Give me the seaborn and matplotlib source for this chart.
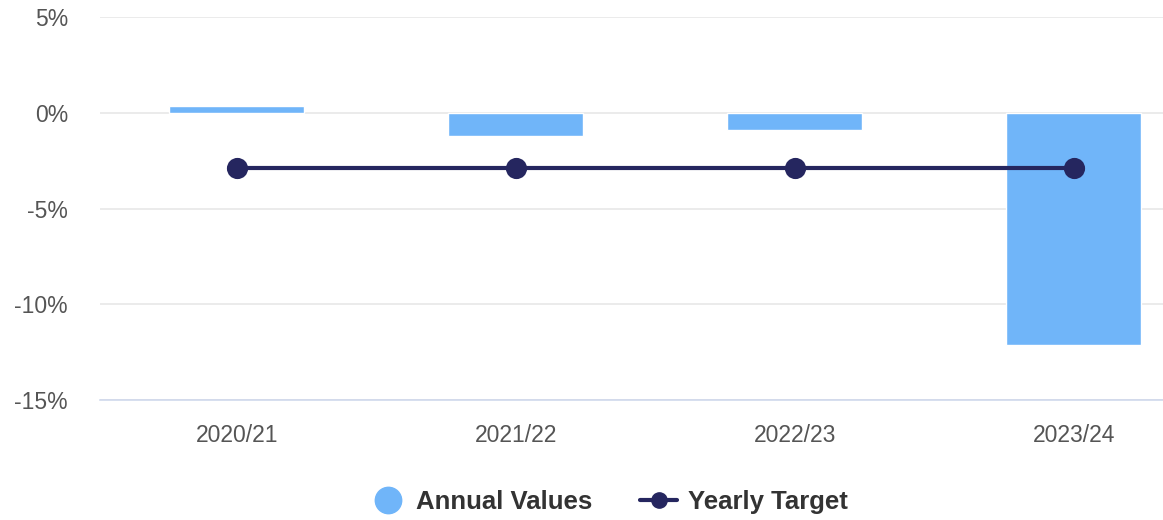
import numpy as np
import pandas as pd
import matplotlib
matplotlib.use('Agg')
import matplotlib.pyplot as plt
from matplotlib.lines import Line2D
import seaborn as sns

# values (percent)
years = ['2020/21', '2021/22', '2022/23', '2023/24']
annual_values = [0.33, -1.2, -0.9, -12.15]
yearly_target = [-2.9, -2.9, -2.9, -2.9]
y_ticks = [-15, -10, -5, 0, 5]

bar_color = '#70b5f9'
line_color = '#25265f'
label_color = '#555555'

sns.set_theme(style='white')
plt.rcParams['font.family'] = ['Liberation Sans', 'DejaVu Sans']

df = pd.DataFrame({'Year': years, 'Annual': annual_values, 'Target': yearly_target})

fig = plt.figure(figsize=(11.63, 5.20), dpi=100)
ax = fig.add_axes([100 / 1163, 1 - 400 / 520, 1 - 100 / 1163, (400 - 17) / 520])

sns.barplot(data=df, x='Year', y='Annual', color=bar_color, width=0.485,
            saturation=1, ax=ax, zorder=2)
sns.pointplot(data=df, x='Year', y='Target', color=line_color, markers='o',
              markersize=13, linewidth=3, ax=ax, zorder=3)

ax.set_xlim(-0.49, 3.32)
ax.set_ylim(-15, 5)
ax.set_yticks(y_ticks)
ax.set_yticklabels([f'{t}%' for t in y_ticks])
ax.set_xlabel('')
ax.set_ylabel('')

ax.set_axisbelow(True)
ax.yaxis.grid(True, color='#e6e6e6', linewidth=1.1)
ax.xaxis.grid(False)
for side in ['left', 'right', 'top']:
    ax.spines[side].set_visible(False)
ax.spines['bottom'].set_color('#ccd6eb')
ax.spines['bottom'].set_linewidth(1.1)
ax.spines['bottom'].set_zorder(1)

ax.tick_params(axis='y', length=0, pad=23, labelsize=16.5, labelcolor=label_color)
ax.tick_params(axis='x', length=0, pad=17, labelsize=16.5, labelcolor=label_color)

handles = [
    Line2D([], [], linestyle='none', marker='o', markersize=19, color=bar_color),
    Line2D([], [], color=line_color, linewidth=3, marker='o', markersize=11),
]
fig.legend(handles, ['Annual Values', 'Yearly Target'], loc='center',
           bbox_to_anchor=(0.523, 1 - 502 / 520), ncol=2, frameon=False,
           handlelength=1.45, handletextpad=0.4, columnspacing=1.85,
           prop={'size': 18.5, 'weight': 'bold'}, labelcolor='#333333')

fig.savefig('out.png', dpi=100)
